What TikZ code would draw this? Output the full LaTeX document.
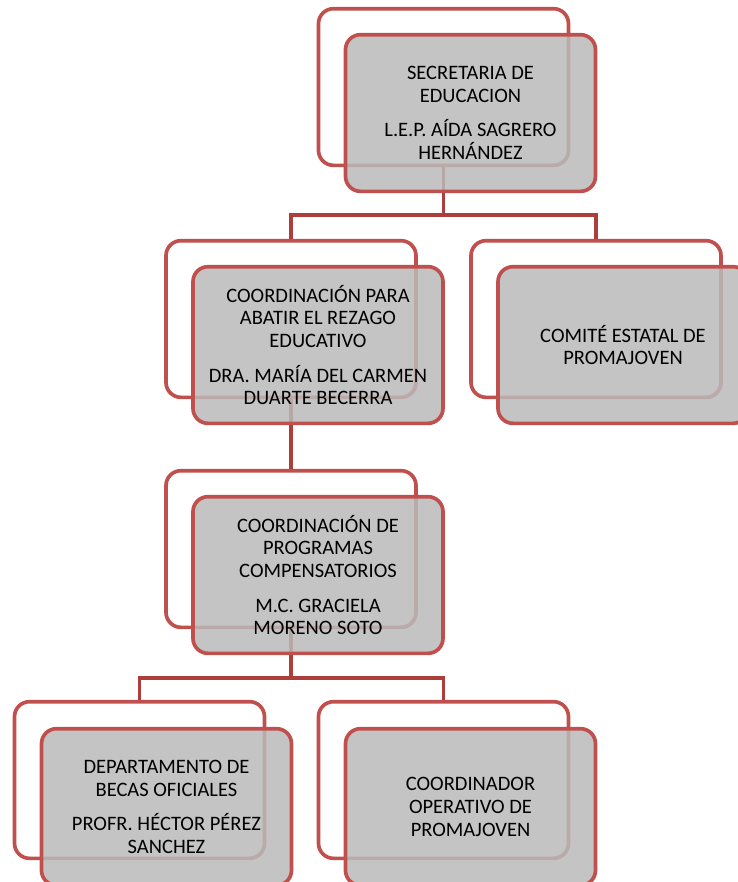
\documentclass[tikz,border=0pt]{standalone}
\usepackage{fontspec}
\setmainfont{Carlito}
\definecolor{frameRed}{RGB}{192,80,77}
\definecolor{linkRed}{RGB}{172,62,60}
\definecolor{cardGray}{RGB}{186,186,186}

\begin{document}
\begin{tikzpicture}[x=0.03cm,y=-0.03cm,
  backbox/.style={rectangle,rounded corners=0.45cm,draw=frameRed,line width=0.11cm,fill=white,minimum width=7.5cm,minimum height=4.7cm,inner sep=0pt},
  card/.style={backbox,fill=cardGray,fill opacity=0.85,text opacity=1,align=center,font=\fontsize{17.5}{19.6}\selectfont},
  link/.style={draw=linkRed,line width=0.11cm}]
\useasboundingbox (0,0) rectangle (738,882);
\clip (0,0) rectangle (738,882);

\node[backbox] (sec) at (443.5,87) {};
\node[backbox] (coord) at (291,319) {};
\node[backbox] (comite) at (596,319) {};
\node[backbox] (prog) at (291,549) {};
\node[backbox] (depto) at (139.5,780) {};
\node[backbox] (oper) at (443.5,780) {};

\coordinate (j1) at (443.5,215);
\coordinate (j2) at (291,678);
\draw[link] (sec.south) -- (j1) -| (coord.north);
\draw[link] (j1) -| (comite.north);
\draw[link] (coord.south) -- (prog.north);
\draw[link] (prog.south) -- (j2) -| (depto.north);
\draw[link] (j2) -| (oper.north);

\node[card] (secF) at ([shift={(27,26)}]sec.center) {SECRETARIA DE\\EDUCACION\\[9.5pt]L.E.P. AÍDA SAGRERO\\HERNÁNDEZ};
\node[card] (coordF) at ([shift={(27,26)}]coord.center) {COORDINACIÓN PARA\\ABATIR EL REZAGO\\EDUCATIVO\\[9.5pt]DRA. MARÍA DEL CARMEN\\DUARTE BECERRA};
\node[card] (comiteF) at ([shift={(27,26)}]comite.center) {COMITÉ ESTATAL DE\\PROMAJOVEN};
\node[card] (progF) at ([shift={(27,26)}]prog.center) {COORDINACIÓN DE\\PROGRAMAS\\COMPENSATORIOS\\[9.5pt]M.C. GRACIELA\\MORENO SOTO};
\node[card] (deptoF) at ([shift={(27,27)}]depto.center) {DEPARTAMENTO DE\\BECAS OFICIALES\\[9.5pt]PROFR. HÉCTOR PÉREZ\\SANCHEZ};
\node[card] (operF) at ([shift={(27,27)}]oper.center) {COORDINADOR\\OPERATIVO DE\\PROMAJOVEN};
\end{tikzpicture}
\end{document}
